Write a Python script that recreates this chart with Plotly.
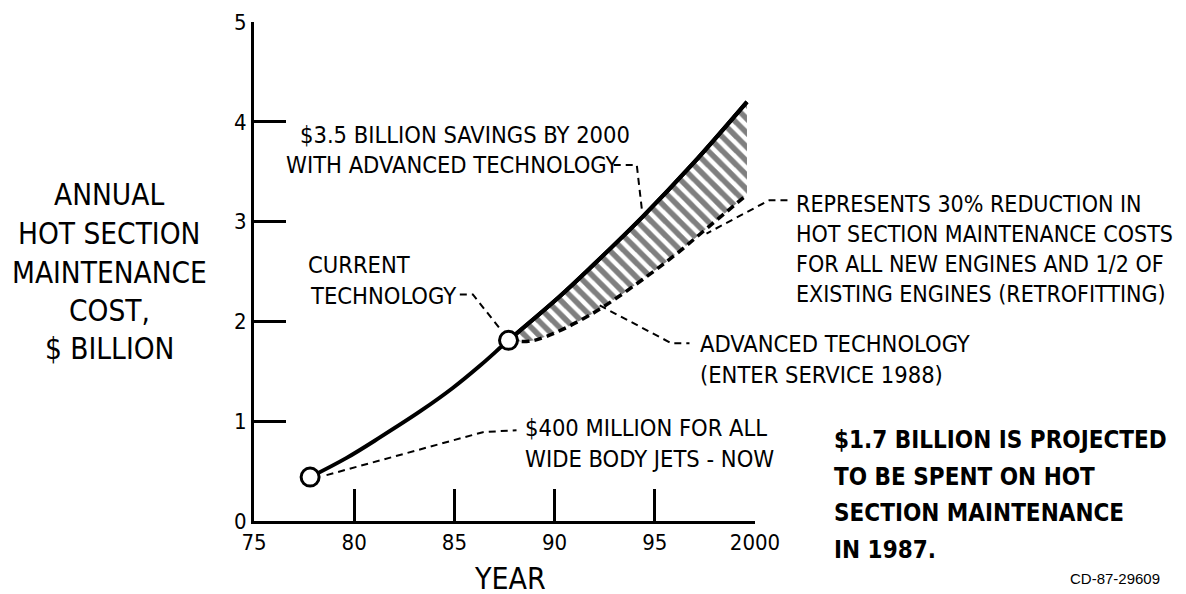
import plotly.graph_objects as go

# ---- data ----
years_current = [77.8, 79.6, 81.3, 83.3, 84.9, 86.3, 87.7, 90.25, 91.9, 94.4, 96.9, 99.6]
cost_current = [0.44, 0.63, 0.84, 1.10, 1.33, 1.56, 1.81, 2.25, 2.56, 3.05, 3.58, 4.2]
years_advanced = [87.7, 88.7, 89.6, 91.9, 94.6, 96.1, 97.7, 99.6]
cost_advanced = [1.81, 1.80, 1.85, 2.08, 2.45, 2.68, 2.95, 3.27]
marker_years = [77.8, 87.7]
marker_costs = [0.44, 1.81]
x_tickvals = [75, 80, 85, 90, 95, 100]
x_ticktext = ["75", "80", "85", "90", "95", "2000"]
y_tickvals = [0, 1, 2, 3, 4, 5]
y_ticktext = ["0", "1", "2", "3", "4", "5"]

W, H = 1186, 594
OFF = 8  # page body margin offset
# plot area in screen pixels
L, R, T, B = 254, 755.5, 22, 521
X0, X1, Y0, Y1 = 75, 100, 0, 5

FONT = "DejaVu Sans Condensed, Liberation Sans Narrow, DejaVu Sans, sans-serif"


def px(x):
    return (x - L) / (R - L)


def py(y):
    return (B - y) / (B - T)


def dx(x):
    return (x - X0) / (X1 - X0)


def dy(y):
    return (y - Y0) / (Y1 - Y0)


fig = go.Figure()

# advanced technology (lower boundary)
fig.add_trace(go.Scatter(x=years_advanced, y=cost_advanced, mode="lines",
                         line=dict(color="black", width=3.5, dash="8px,5px", shape="spline"),
                         hoverinfo="skip", showlegend=False))
# upper boundary of savings area (current technology after 1988)
seg_x = [x for x in years_current if x >= years_advanced[0]]
seg_y = [y for x, y in zip(years_current, cost_current) if x >= years_advanced[0]]
fig.add_trace(go.Scatter(x=seg_x, y=seg_y, mode="lines", fill="tonexty",
                         fillcolor="white",
                         fillpattern=dict(shape="\\", size=10, solidity=0.55,
                                          fgcolor="black", bgcolor="white"),
                         line=dict(color="black", width=4, shape="spline"),
                         hoverinfo="skip", showlegend=False))
# current technology
fig.add_trace(go.Scatter(x=years_current, y=cost_current, mode="lines",
                         line=dict(color="black", width=4, shape="spline"),
                         hoverinfo="skip", showlegend=False))
# open circles
fig.add_trace(go.Scatter(x=marker_years, y=marker_costs, mode="markers",
                         marker=dict(size=18, color="white", line=dict(color="black", width=3)),
                         hoverinfo="skip", showlegend=False, cliponaxis=False))

# leader lines (dashed), given in data units and drawn in paper space
leaders = [
    [(92.95, 3.567), (94.1, 3.567), (94.35, 3.13)],
    [(85.27, 2.27), (85.92, 2.27), (87.26, 1.93)],
    [(101.62, 3.215), (100.72, 3.215), (97.58, 2.88)],
    [(92.25, 2.16), (95.84, 1.78), (96.73, 1.78)],
    [(78.62, 0.46), (86.42, 0.89), (88.1, 0.91)],
]
shapes = []
for pts in leaders:
    path = "M " + " L ".join(f"{dx(a):.4f},{dy(b):.4f}" for a, b in pts)
    shapes.append(dict(type="path", xref="paper", yref="paper", path=path,
                       line=dict(color="black", width=2, dash="7px,5px")))

ann = []


def text(x, y, s, size=23.5, xanchor="left", align="left", bold=False, family=FONT):
    ann.append(dict(xref="paper", yref="paper", x=px(x), y=py(y), text=s,
                    showarrow=False, xanchor=xanchor, yanchor="middle", align=align,
                    font=dict(family=family, size=size, color="black",
                              weight="bold" if bold else "normal")))


for yy, s in zip([195, 234, 273, 311, 349],
                 ["ANNUAL", "HOT SECTION", "MAINTENANCE", "COST,", "$ BILLION"]):
    text(109, yy, s, size=29.5, xanchor="center", align="center")
text(510, 578, "YEAR", size=30, xanchor="center", align="center")
text(298, 135, "$3.5 BILLION SAVINGS BY 2000")
text(284, 165, "WITH ADVANCED TECHNOLOGY")
text(306, 265, "CURRENT")
text(308, 296, "TECHNOLOGY")
text(795, 249, "REPRESENTS 30% REDUCTION IN<br>HOT SECTION MAINTENANCE COSTS<br>"
               "FOR ALL NEW ENGINES AND 1/2 OF<br>EXISTING ENGINES (RETROFITTING)", size=23)
text(698, 359, "ADVANCED TECHNOLOGY<br>(ENTER SERVICE 1988)")
text(523, 443, "$400 MILLION FOR ALL<br>WIDE BODY JETS - NOW")
for yy, s in zip([440, 477, 513, 550],
                 ["$1.7 BILLION IS PROJECTED", "TO BE SPENT ON HOT",
                  "SECTION MAINTENANCE", "IN 1987."]):
    text(833, yy, s, size=24, bold=True)
text(1163, 578, "CD-87-29609", size=15, xanchor="right", align="right",
     family="Liberation Sans, Arial, sans-serif")

fig.update_layout(
    width=W, height=H,
    margin=dict(l=L - OFF, r=W - (R - OFF), t=T - OFF, b=H - (B - OFF), autoexpand=False),
    paper_bgcolor="white", plot_bgcolor="white",
    shapes=shapes, annotations=ann,
    font=dict(family=FONT, size=22, color="black"),
    xaxis=dict(range=[X0, X1], tickvals=x_tickvals, ticktext=x_ticktext,
               ticks="inside", ticklen=32, tickwidth=2.5, tickcolor="black",
               showline=True, linecolor="black", linewidth=3, automargin=False,
               showgrid=False, zeroline=False, tickfont=dict(size=22)),
    yaxis=dict(range=[Y0, Y1], tickvals=y_tickvals, ticktext=y_ticktext,
               ticks="inside", ticklen=32, tickwidth=2.5, tickcolor="black",
               showline=True, linecolor="black", linewidth=3, automargin=False,
               showgrid=False, zeroline=False, tickfont=dict(size=22)),
)

fig.write_html("out.html")
